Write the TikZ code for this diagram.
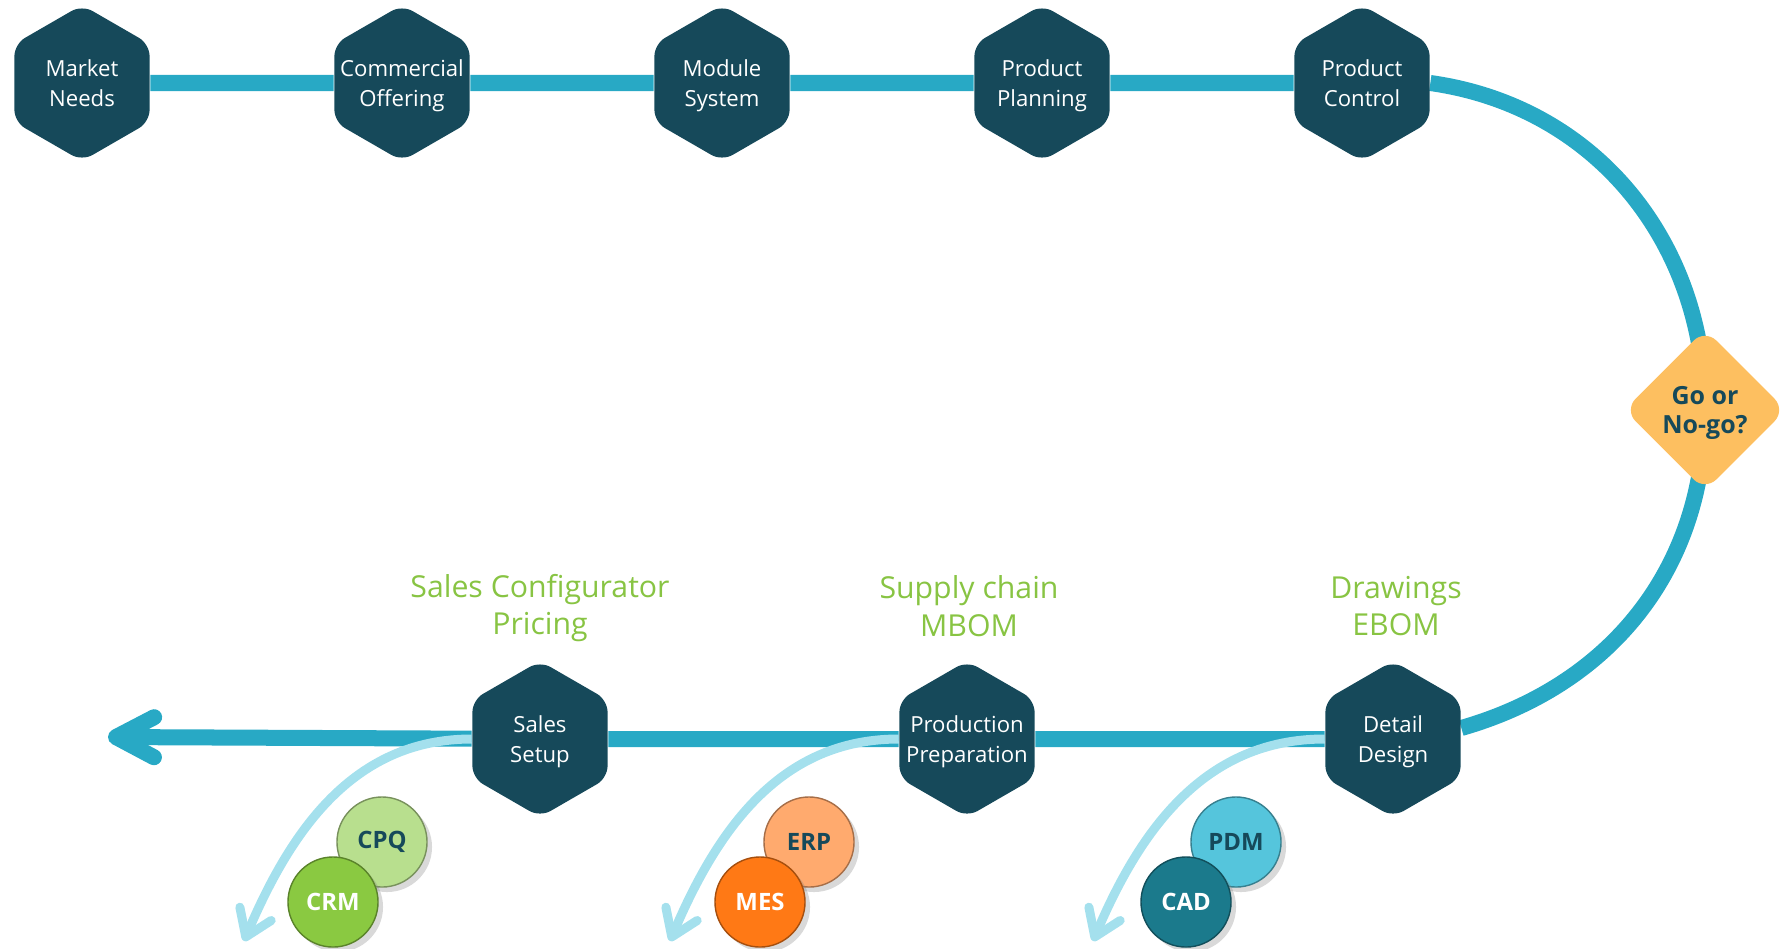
\documentclass[tikz,border=0pt]{standalone}
\usepackage{fontspec}
\setmainfont{Open Sans}
\usetikzlibrary{shapes.geometric,arrows.meta,shadows,backgrounds}

\definecolor{hexblue}{HTML}{16495A}
\definecolor{flowblue}{HTML}{28A9C5}
\definecolor{paleblue}{HTML}{A4E0ED}
\definecolor{labelgreen}{HTML}{88C443}
\definecolor{gold}{HTML}{FDBF60}
\definecolor{cpqgreen}{HTML}{B8DF8E}
\definecolor{crmgreen}{HTML}{8AC941}
\definecolor{erporange}{HTML}{FFAA6E}
\definecolor{mesorange}{HTML}{FF7915}
\definecolor{pdmcyan}{HTML}{55C5DC}
\definecolor{cadteal}{HTML}{1B7A8C}

\tikzset{
  hexa/.style={regular polygon, regular polygon sides=6, shape border rotate=30,
    minimum size=1.56cm, inner xsep=-.3cm, inner ysep=0pt, rounded corners=.12cm,
    fill=hexblue, text=white, align=center, text depth=0pt,
    font=\fontsize{6.3}{8.4}\selectfont},
  gate/.style={diamond, aspect=1, minimum size=1.62cm, inner sep=0pt,
    rounded corners=.16cm, fill=gold, text=hexblue, align=center, text depth=0pt,
    font=\bfseries\fontsize{7.1}{8.4}\selectfont},
  flow/.style={line width=.16cm, draw=flowblue},
  feed/.style={line width=.09cm, draw=paleblue,
    -{Straight Barb[length=.25cm,width=.34cm,round]}},
  stage/.style={text=labelgreen, align=center, font=\fontsize{8.6}{10.7}\selectfont},
  tool/.style={circle, minimum size=.9cm, inner sep=0pt, fill=#1,
    draw=#1!65!black, line width=.4pt, font=\bfseries\fontsize{6.8}{7}\selectfont,
    drop shadow={opacity=.3,shadow xshift=.5mm,shadow yshift=-.5mm}}
}

\begin{document}
\begin{tikzpicture}[x=.01cm,y=.01cm]
  \useasboundingbox (0,0) rectangle (1782,-948);
  % top row
  \foreach \name/\txt [count=\i from 0] in {mkt/{Market\\Needs},com/{Commercial\\Offering},
      mod/{Module\\System},plan/{Product\\Planning},ctrl/{Product\\Control}}
    \node[hexa] (\name) at (82+320*\i,-83) {\txt};
  \node[gate] (go) at (1705,-410) {Go or\\No-go?};
  % bottom row
  \node[hexa] (dd) at (1393,-739) {Detail\\Design};
  \node[hexa] (pp) at (967,-739) {Production\\Preparation};
  \node[hexa] (ss) at (540,-739) {Sales\\Setup};
  \coordinate (out) at (108,-737);
  \node[stage] (lblss) at (540,-608) {Sales Configurator\\Pricing};
  \node[stage] (lblpp) at (969,-606) {Supply chain\\MBOM};
  \node[stage] (lbldd) at (1396,-606) {Drawings\\EBOM};
  \begin{scope}[on background layer]
    \foreach \a/\b in {mkt/com,com/mod,mod/plan,plan/ctrl,dd/pp,pp/ss}
      \draw[flow] (\a) -- (\b);
    \draw[flow] (ctrl.east) to[out=-8,in=90] (go.center)
      to[out=-90,in=16] ([yshift=.11cm]dd.east);
    \draw[flow,-{Straight Barb[length=.38cm,width=.4cm,round]}] (ss) -- (out);
  \end{scope}
  % tools
  \coordinate (ssend) at (244,-941);
  \coordinate (ppend) at (670,-941);
  \coordinate (ddend) at (1093,-941);
  \draw[feed] (ss.west) to[out=180,in=67] (ssend);
  \draw[feed] (pp.west) to[out=180,in=67] (ppend);
  \draw[feed] (dd.west) to[out=180,in=67] (ddend);
  \node[tool=cpqgreen,text=hexblue] (cpq) at (382,-842) {CPQ};
  \node[tool=crmgreen,text=white] (crm) at (333,-902) {CRM};
  \node[tool=erporange,text=hexblue] (erp) at (809,-842) {ERP};
  \node[tool=mesorange,text=white] (mes) at (760,-902) {MES};
  \node[tool=pdmcyan,text=hexblue] (pdm) at (1236,-842) {PDM};
  \node[tool=cadteal,text=white] (cad) at (1186,-902) {CAD};
\end{tikzpicture}
\end{document}
